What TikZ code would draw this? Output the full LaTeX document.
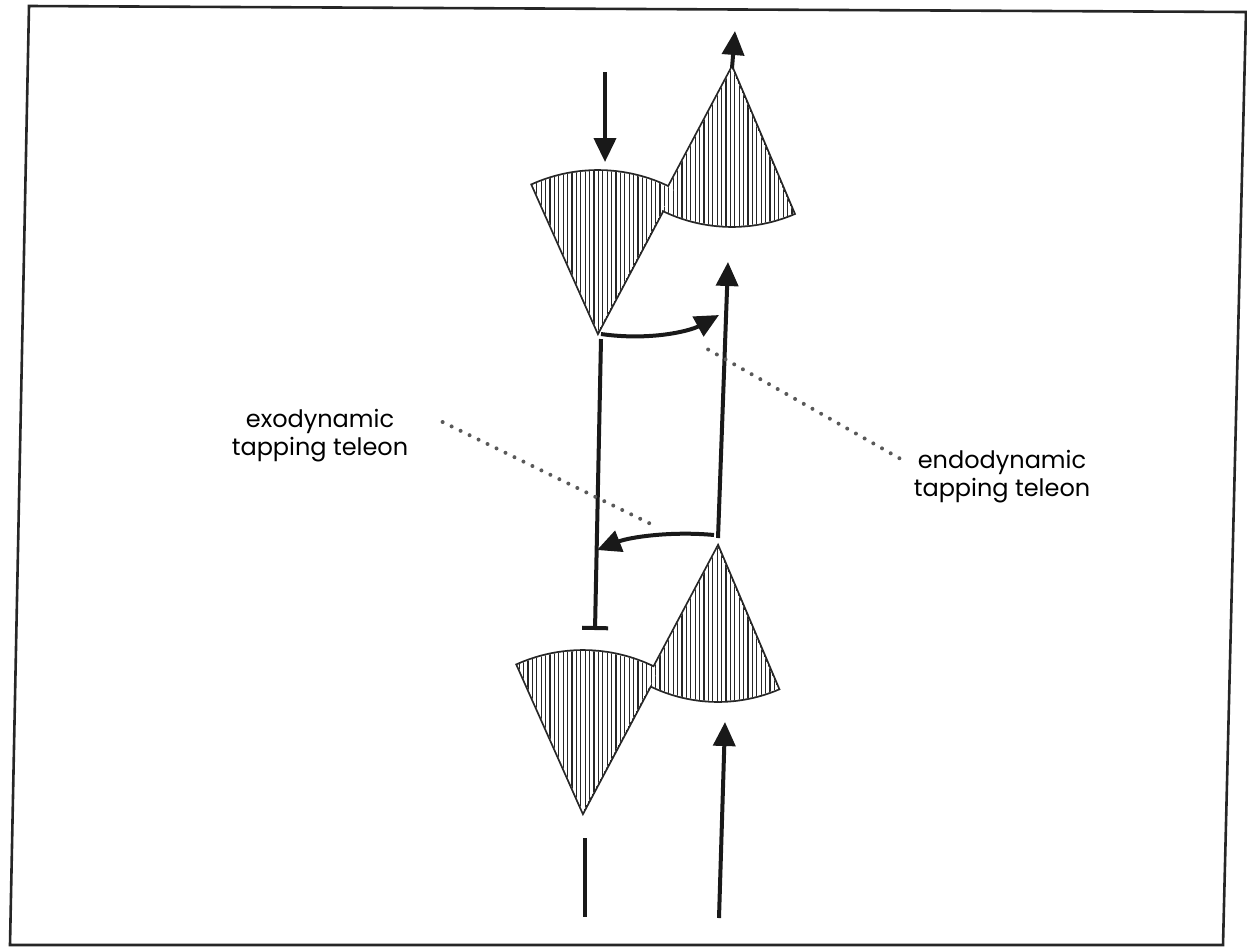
\documentclass[tikz,border=0pt]{standalone}
\usepackage{fontspec}
\setmainfont{Poppins}
\usetikzlibrary{arrows.meta, positioning, calc}

\tikzset{
    frame/.style={line width=1.3pt, black!85},
    wedgeline/.style={line width=1.8pt, black!85},
    hatch/.style={line width=0.6pt, black!85},
    mainline/.style={line width=2pt, black!90},
    tip/.style={-{Triangle[width=11pt,length=12pt]}},
    leader/.style={line width=2pt, black!65, line cap=round, dash pattern=on 0pt off 5pt},
    label/.style={font=\fontsize{12}{14}\selectfont, text=black, align=center, inner sep=0pt}
}

% circular sector: apex, start angle, end angle, radius
\newcommand{\wedgepath}[4]{(#1) -- ++(#2:#4) arc[start angle=#2, end angle=#3, radius=#4] -- cycle}
\newcommand{\hatchwedge}[4]{%
    \begin{scope}
        \clip \wedgepath{#1}{#2}{#3}{#4};
        \fill[white] \wedgepath{#1}{#2}{#3}{#4};
        \foreach \hx in {0,4.4,...,1247}
            \draw[hatch] (\hx,0) -- (\hx,949);
    \end{scope}
}

\begin{document}
\begin{tikzpicture}[x=0.5pt, y=-0.5pt]
    \useasboundingbox (0,0) rectangle (1247,949);
    \draw[frame] (29,6) -- (1246,12) -- (1223,945) -- (10,945) -- cycle;

    % apexes of the four wedges
    \coordinate (topL) at (598,332);
    \coordinate (topR) at (732,68);
    \coordinate (botL) at (583,812);
    \coordinate (botR) at (718,547);

    % outlines first, hatching on top gives one joint outline per pair
    \draw[wedgeline] \wedgepath{topR}{67}{118}{158};
    \draw[wedgeline] \wedgepath{topL}{246}{298}{161};
    \draw[wedgeline] \wedgepath{botR}{67}{118}{154};
    \draw[wedgeline] \wedgepath{botL}{246}{298}{161};
    \hatchwedge{topR}{67}{118}{158}
    \hatchwedge{topL}{246}{298}{161}
    \hatchwedge{botR}{67}{118}{154}
    \hatchwedge{botL}{246}{298}{161}

    % arrow ends
    \coordinate (inTop) at (605,72);
    \coordinate (inTopEnd) at (605,162);
    \coordinate (outTop) at (735,31);
    \coordinate (tapA) at (601,334);
    \coordinate (tapAEnd) at (719,315);
    \coordinate (riseLow) at (718,538);
    \coordinate (riseHigh) at (728,262);
    \coordinate (dropTop) at (601,339);
    \coordinate (dropBar) at (595,630);
    \coordinate (tapB) at (714,535);
    \coordinate (tapBEnd) at (597,550);
    \coordinate (stemA) at (585,838);
    \coordinate (stemB) at (585,917);
    \coordinate (inBot) at (719,918);
    \coordinate (inBotEnd) at (725,722);

    \draw[mainline, tip] (inTop) -- (inTopEnd);
    \draw[mainline, tip] (topR) -- (outTop);
    \draw[mainline, tip] (tapA) .. controls (650,341) and (690,331) .. (tapAEnd);
    \draw[mainline, tip] (riseLow) -- (riseHigh);
    \draw[mainline, -{Bar[width=13pt]}] (dropTop) -- (dropBar);
    \draw[mainline, tip] (tapB) .. controls (672,531) and (630,537) .. (tapBEnd);
    \draw[mainline] (stemA) -- (stemB);
    \draw[mainline, tip] (inBot) -- (inBotEnd);

    % labels with dotted leaders
    \node[label] (exo) at (320,436) {exodynamic\\tapping teleon};
    \node[label] (endo) at (1002,477) {endodynamic\\tapping teleon};
    \coordinate (exoEnd) at (657,527);
    \coordinate (endoEnd) at (702,346);
    \draw[leader] ([xshift=17pt,yshift=7pt]exo.east) -- (exoEnd);
    \draw[leader] ([xshift=-7pt,yshift=-4pt]endo.north west) -- (endoEnd);
\end{tikzpicture}
\end{document}
